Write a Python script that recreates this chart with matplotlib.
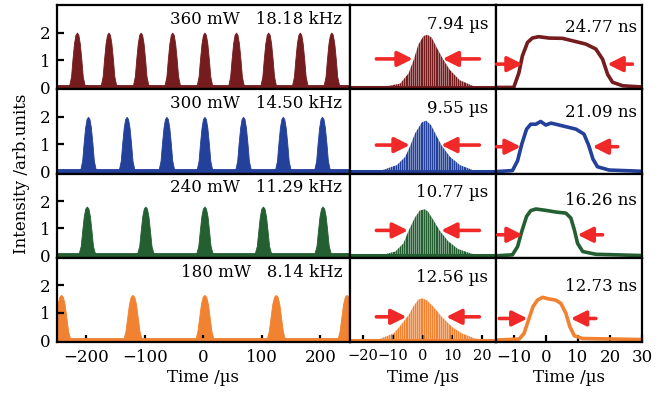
import numpy as np
import matplotlib
matplotlib.use("Agg")
import matplotlib.pyplot as plt

plt.rcParams['font.family'] = ['DejaVu Serif']
plt.rcParams['axes.linewidth'] = 1.6

# colores de cada fila (potencia de bombeo)
colors = ['#741c1e', '#23409a', '#245f32', '#f08232']
arrow_red = '#f02828'

# textos
power_labels = ['360 mW   18.18 kHz', '300 mW   14.50 kHz', '240 mW   11.29 kHz', '180 mW   8.14 kHz']
env_labels = ['7.94 µs', '9.55 µs', '10.77 µs', '12.56 µs']
pulse_labels = ['24.77 ns', '21.09 ns', '16.26 ns', '12.73 ns']

# tren de pulsos: centros (µs) y alturas de los picos
train_centers = [
    [-216, -162, -107, -53, 2, 56, 111, 165, 219],
    [-197, -131, -63, 2, 68, 136, 203],
    [-199, -99, 2, 102, 204],
    [-243, -121, 2, 124, 245],
]
train_heights = [2.0, 2.0, 1.8, 1.65]
# forma de cada pico del tren (relativa al centro, normalizada)
train_shape_t = [
    [-17, -13, -10, -7.7, -5, -2.5, 0, 2.5, 5, 7.7, 10, 13, 17],
    [-17, -13, -10, -7.7, -5, -2.5, 0, 2.5, 5, 7.7, 10, 13, 17],
    [-18, -14, -10.5, -8, -5.3, -2.7, 0, 2.7, 5.3, 8, 10.5, 14, 18],
    [-20, -15, -12, -9, -6, -3, 0, 3, 6, 9, 12, 15, 20],
]
train_shape_y = [0, 0.05, 0.2, 0.5, 0.8, 0.96, 1, 0.96, 0.8, 0.5, 0.2, 0.05, 0]

# envolvente de un pulso Q-switch (µs)
env_t = [
    [-24, -13.2, -7.7, -4.9, -3.2, -1.6, 0.1, 1.4, 2.9, 4.6, 6.8, 9.0, 12.3, 16.8, 20.0, 24],
    [-24, -14.3, -8.8, -6.0, -4.3, -2.7, -0.4, 1.0, 2.6, 4.6, 6.2, 9.0, 12.3, 16.8, 21.2, 24],
    [-24, -14.8, -9.3, -6.6, -4.9, -2.9, -1.2, 0.4, 1.6, 3.4, 5.6, 8.4, 11.7, 16.2, 20.6, 24],
    [-24, -14.8, -9.8, -6.6, -4.9, -3.2, -1.6, -0.4, 1.2, 3.4, 6.2, 9.6, 12.9, 17.4, 21.9, 24],
]
env_y = [
    [0, 0.04, 0.16, 0.53, 1.02, 1.58, 1.89, 1.94, 1.83, 1.46, 1.02, 0.65, 0.28, 0.07, 0.02, 0],
    [0, 0.05, 0.26, 0.56, 0.97, 1.42, 1.82, 1.88, 1.72, 1.30, 0.97, 0.56, 0.26, 0.07, 0.02, 0],
    [0, 0.02, 0.18, 0.48, 0.93, 1.39, 1.67, 1.72, 1.64, 1.33, 0.93, 0.55, 0.27, 0.10, 0.02, 0],
    [0, 0.05, 0.27, 0.69, 0.93, 1.26, 1.50, 1.54, 1.48, 1.24, 0.87, 0.51, 0.27, 0.08, 0.02, 0],
]
env_arrows = [  # (punta izq, punta der, altura)
    (-3.3, 6.7, 1.04), (-4.3, 6.2, 0.97), (-4.9, 6.2, 0.93), (-5.4, 7.9, 0.85),
]

# pulso individual (ns)
pulse_t = [
    [-16, -10, -8.4, -7.3, -5.7, -4.2, -2.2, 1.0, 5.2, 9.4, 12.5, 15.6, 17.7, 19.3, 20.8, 24, 31],
    [-16, -10.4, -8.8, -7.5, -6.0, -4.7, -3.1, -1.6, 0, 1.6, 3.1, 6.25, 9.4, 11.9, 13.4, 14.7, 16.1, 19.7, 31],
    [-16, -10.4, -8.8, -7.5, -6.0, -4.7, -3.1, 0, 3.1, 6.25, 7.8, 8.9, 9.9, 11.5, 15.6, 31],
    [-16, -8.3, -6.8, -5.4, -4.0, -2.6, -1.0, 1.0, 3.1, 4.7, 6.25, 7.5, 8.9, 11.5, 31],
]
pulse_y = [
    [0, 0, 0.53, 1.15, 1.64, 1.80, 1.85, 1.80, 1.79, 1.67, 1.58, 1.40, 1.03, 0.47, 0.19, 0.06, 0.01],
    [0, 0.04, 0.40, 1.00, 1.55, 1.73, 1.73, 1.83, 1.70, 1.77, 1.73, 1.64, 1.55, 1.37, 0.95, 0.46, 0.18, 0.06, 0.01],
    [0, 0.04, 0.34, 0.89, 1.44, 1.65, 1.71, 1.66, 1.60, 1.56, 1.38, 0.95, 0.46, 0.16, 0.06, 0.01],
    [0, 0.04, 0.24, 0.73, 1.22, 1.46, 1.56, 1.50, 1.46, 1.34, 0.98, 0.49, 0.16, 0.06, 0.02],
]
pulse_arrows = [  # (cola izq, punta izq, punta der, cola der, altura)
    (-15.3, -7.2, 19.2, 27.0, 0.85),
    (-15.3, -7.8, 14.6, 22.4, 0.91),
    (-15.0, -7.2, 9.9, 17.7, 0.77),
    (-14.5, -5.7, 7.8, 15.6, 0.79),
]

fig = plt.figure(figsize=(6.66, 3.95), dpi=100)
gs = fig.add_gridspec(4, 3, width_ratios=[2, 1, 1], left=0.0856, right=0.964,
                      top=0.987, bottom=0.134, wspace=0, hspace=0)


def arrow(ax, tail, tip, y):
    ax.annotate('', xy=(tip, y), xytext=(tail, y),
                arrowprops=dict(arrowstyle='-|>,head_length=0.7,head_width=0.35', color=arrow_red, lw=2.6,
                                mutation_scale=13, shrinkA=0, shrinkB=0))


bottom_axes = []
for r in range(4):
    c = colors[r]
    ax1 = fig.add_subplot(gs[r, 0])
    ax2 = fig.add_subplot(gs[r, 1])
    ax3 = fig.add_subplot(gs[r, 2])

    # tren de pulsos
    st = np.array(train_shape_t[r])
    sy = np.array(train_shape_y) * train_heights[r]
    for cen in train_centers[r]:
        ax1.fill_between(st + cen, 0, sy, color=c, lw=0.6, edgecolor=c)
    ax1.axhline(0.02, color=c, lw=3.5)
    ax1.set_xlim(-250, 250)
    ax1.text(0.975, 0.83, power_labels[r], transform=ax1.transAxes,
             ha='right', va='center', fontsize=12)

    # envolvente con sub-pulsos
    poly = ax2.fill_between(env_t[r], 0, env_y[r], color=c, lw=0)
    gaps = ax2.vlines(np.arange(-24.5, 25, 0.72), -0.1, 3, color='white', lw=0.4, alpha=0.75)
    gaps.set_clip_path(poly.get_paths()[0], ax2.transData)
    ax2.axhline(0.02, color=c, lw=2.2)
    ax2.set_xlim(-24.5, 24.5)
    la, ra, ya = env_arrows[r]
    arrow(ax2, -15.5, la, ya)
    arrow(ax2, 19.0, ra, ya)
    ax2.text(0.95, 0.77, env_labels[r], transform=ax2.transAxes,
             ha='right', va='center', fontsize=12)

    # pulso individual
    ax3.plot(pulse_t[r], pulse_y[r], color=c, lw=2.6, solid_joinstyle='round')
    ax3.set_xlim(-15.6, 30)
    tl, tipl, tipr, tr, yp = pulse_arrows[r]
    arrow(ax3, tl, tipl, yp)
    arrow(ax3, tr, tipr, yp)
    ax3.text(0.965, [0.74, 0.72, 0.68, 0.66][r], pulse_labels[r], transform=ax3.transAxes,
             ha='right', va='center', fontsize=12)

    for ax in (ax1, ax2, ax3):
        ax.set_ylim(-0.07, 3.0)
        ax.tick_params(direction='in', length=5, width=1.6, labelsize=12, pad=5)
        ax.set_yticks([])
        if r < 3:
            ax.set_xticks([])
    ax1.set_yticks([0, 1, 2])

    if r == 3:
        ax1.set_xticks([-200, -100, 0, 100, 200])
        ax2.set_xticks([-20, -10, 0, 10, 20])
        ax3.set_xticks([-10, 0, 10, 20, 30])
        ax2.tick_params(labelsize=10.5)
        for ax in (ax1, ax2, ax3):
            ax.set_xlabel('Time /µs', fontsize=12, labelpad=2)
        bottom_axes = [ax1, ax2, ax3]

fig.align_xlabels(bottom_axes)
fig.text(0.033, 0.56, 'Intensity /arb.units', rotation=90, ha='center', va='center', fontsize=12)

fig.savefig('out.png', dpi=100)
